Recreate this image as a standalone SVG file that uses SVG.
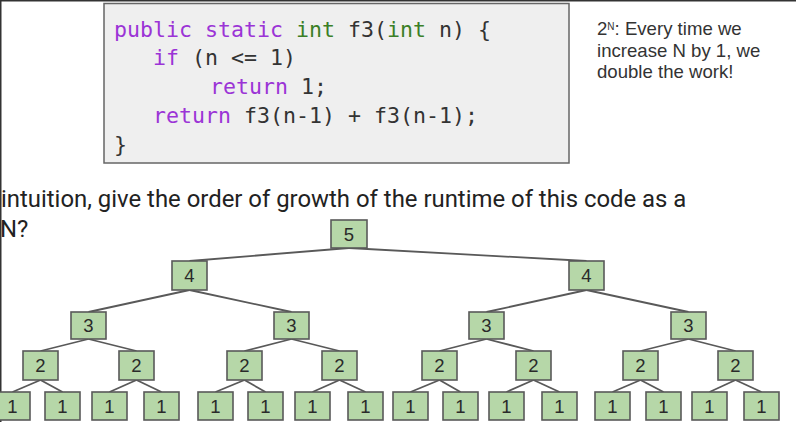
<svg xmlns="http://www.w3.org/2000/svg" width="796" height="422" viewBox="0 0 796 422">
<style>
.code{font-family:"DejaVu Sans Mono","Liberation Mono",monospace;font-size:21.6px;fill:#333}
.kw{fill:#9b34d6}
.ty{fill:#3b7f27}
.note{font-family:"Liberation Sans",Arial,sans-serif;font-size:18.6px;fill:#333}
.q{font-family:Roboto,"Liberation Sans",sans-serif;font-size:23.9px;fill:#222}
.node rect{fill:#b6d7a8;stroke:#595959;stroke-width:1.6}
.node text{font-family:"Liberation Sans",Arial,sans-serif;font-size:18.5px;fill:#2a2a2a;text-anchor:middle}
#edges line{stroke:#595959;stroke-width:1.8}
</style>
<rect width="796" height="422" fill="#fff"/>
<rect x="0" y="0" width="796" height="1.5" fill="#333"/>
<rect x="0" y="0" width="1.5" height="422" fill="#333"/>

<g id="code">
<rect x="104" y="3.5" width="465" height="159.5" fill="#efefef" stroke="#666" stroke-width="1.5"/>
<text class="code" x="114" y="37" xml:space="preserve"><tspan class="kw">public static</tspan> <tspan class="ty">int</tspan> f3(<tspan class="ty">int</tspan> n) {</text>
<text class="code" x="153" y="65" xml:space="preserve"><tspan class="kw">if</tspan> (n &lt;= 1)</text>
<text class="code" x="210" y="94" xml:space="preserve"><tspan class="kw">return</tspan> 1;</text>
<text class="code" x="153" y="123" xml:space="preserve"><tspan class="kw">return</tspan> f3(n-1) + f3(n-1);</text>
<text class="code" x="114" y="152">}</text>
</g>

<g id="note">
<text class="note" x="597" y="35">2<tspan font-size="10px" dy="-5">N</tspan><tspan dy="5">: Every time we</tspan></text>
<text class="note" x="597" y="56.5">increase N by 1, we</text>
<text class="note" x="597" y="78">double the work!</text>
</g>

<g id="question">
<text class="q" x="1" y="207">intuition, give the order of growth of the runtime of this code as a</text>
<text class="q" x="0" y="237">N?</text>
</g>

<g id="edges">
<line x1="349" y1="248" x2="189.5" y2="261"/>
<line x1="349" y1="248" x2="586.5" y2="261"/>
<line x1="189.5" y1="290" x2="88.5" y2="312"/>
<line x1="189.5" y1="290" x2="291.5" y2="312"/>
<line x1="586.5" y1="290" x2="486.5" y2="312"/>
<line x1="586.5" y1="290" x2="688.5" y2="312"/>
<line x1="88.5" y1="339" x2="40.5" y2="351"/>
<line x1="88.5" y1="339" x2="136.5" y2="351"/>
<line x1="291.5" y1="339" x2="244.5" y2="351"/>
<line x1="291.5" y1="339" x2="339.5" y2="351"/>
<line x1="486.5" y1="339" x2="439.5" y2="351"/>
<line x1="486.5" y1="339" x2="533.5" y2="351"/>
<line x1="688.5" y1="339" x2="640.5" y2="351"/>
<line x1="688.5" y1="339" x2="735.5" y2="351"/>
<line x1="40.5" y1="380" x2="12.5" y2="392"/>
<line x1="40.5" y1="380" x2="62.5" y2="392"/>
<line x1="136.5" y1="380" x2="109.5" y2="392"/>
<line x1="136.5" y1="380" x2="161.5" y2="392"/>
<line x1="244.5" y1="380" x2="215.5" y2="392"/>
<line x1="244.5" y1="380" x2="265.5" y2="392"/>
<line x1="339.5" y1="380" x2="312.5" y2="392"/>
<line x1="339.5" y1="380" x2="365.5" y2="392"/>
<line x1="439.5" y1="380" x2="410.5" y2="392"/>
<line x1="439.5" y1="380" x2="460.5" y2="392"/>
<line x1="533.5" y1="380" x2="506.5" y2="392"/>
<line x1="533.5" y1="380" x2="559.5" y2="392"/>
<line x1="640.5" y1="380" x2="612.5" y2="392"/>
<line x1="640.5" y1="380" x2="663.5" y2="392"/>
<line x1="735.5" y1="380" x2="709.5" y2="392"/>
<line x1="735.5" y1="380" x2="761.5" y2="392"/>
</g>

<g id="n5" class="node"><rect x="331" y="220" width="36" height="28"/><text x="349" y="241">5</text></g>
<g id="n4a" class="node"><rect x="172" y="261" width="35" height="29"/><text x="189.5" y="282">4</text></g>
<g id="n4b" class="node"><rect x="569" y="261" width="35" height="29"/><text x="586.5" y="282">4</text></g>
<g id="n3a" class="node"><rect x="71" y="312" width="35" height="27"/><text x="88.5" y="332">3</text></g>
<g id="n3b" class="node"><rect x="274" y="312" width="35" height="27"/><text x="291.5" y="332">3</text></g>
<g id="n3c" class="node"><rect x="469" y="312" width="35" height="27"/><text x="486.5" y="332">3</text></g>
<g id="n3d" class="node"><rect x="671" y="312" width="35" height="27"/><text x="688.5" y="332">3</text></g>
<g id="n2a" class="node"><rect x="23" y="351" width="35" height="29"/><text x="40.5" y="372">2</text></g>
<g id="n2b" class="node"><rect x="119" y="351" width="35" height="29"/><text x="136.5" y="372">2</text></g>
<g id="n2c" class="node"><rect x="227" y="351" width="35" height="29"/><text x="244.5" y="372">2</text></g>
<g id="n2d" class="node"><rect x="322" y="351" width="35" height="29"/><text x="339.5" y="372">2</text></g>
<g id="n2e" class="node"><rect x="422" y="351" width="35" height="29"/><text x="439.5" y="372">2</text></g>
<g id="n2f" class="node"><rect x="516" y="351" width="35" height="29"/><text x="533.5" y="372">2</text></g>
<g id="n2g" class="node"><rect x="623" y="351" width="35" height="29"/><text x="640.5" y="372">2</text></g>
<g id="n2h" class="node"><rect x="718" y="351" width="35" height="29"/><text x="735.5" y="372">2</text></g>
<g id="n1a" class="node"><rect x="-5" y="392" width="35" height="28"/><text x="12.5" y="413">1</text></g>
<g id="n1b" class="node"><rect x="45" y="392" width="35" height="28"/><text x="62.5" y="413">1</text></g>
<g id="n1c" class="node"><rect x="92" y="392" width="35" height="28"/><text x="109.5" y="413">1</text></g>
<g id="n1d" class="node"><rect x="144" y="392" width="35" height="28"/><text x="161.5" y="413">1</text></g>
<g id="n1e" class="node"><rect x="198" y="392" width="35" height="28"/><text x="215.5" y="413">1</text></g>
<g id="n1f" class="node"><rect x="248" y="392" width="35" height="28"/><text x="265.5" y="413">1</text></g>
<g id="n1g" class="node"><rect x="295" y="392" width="35" height="28"/><text x="312.5" y="413">1</text></g>
<g id="n1h" class="node"><rect x="348" y="392" width="35" height="28"/><text x="365.5" y="413">1</text></g>
<g id="n1i" class="node"><rect x="393" y="392" width="35" height="28"/><text x="410.5" y="413">1</text></g>
<g id="n1j" class="node"><rect x="443" y="392" width="35" height="28"/><text x="460.5" y="413">1</text></g>
<g id="n1k" class="node"><rect x="489" y="392" width="35" height="28"/><text x="506.5" y="413">1</text></g>
<g id="n1l" class="node"><rect x="542" y="392" width="35" height="28"/><text x="559.5" y="413">1</text></g>
<g id="n1m" class="node"><rect x="595" y="392" width="35" height="28"/><text x="612.5" y="413">1</text></g>
<g id="n1n" class="node"><rect x="646" y="392" width="35" height="28"/><text x="663.5" y="413">1</text></g>
<g id="n1o" class="node"><rect x="692" y="392" width="35" height="28"/><text x="709.5" y="413">1</text></g>
<g id="n1p" class="node"><rect x="744" y="392" width="35" height="28"/><text x="761.5" y="413">1</text></g>
</svg>
